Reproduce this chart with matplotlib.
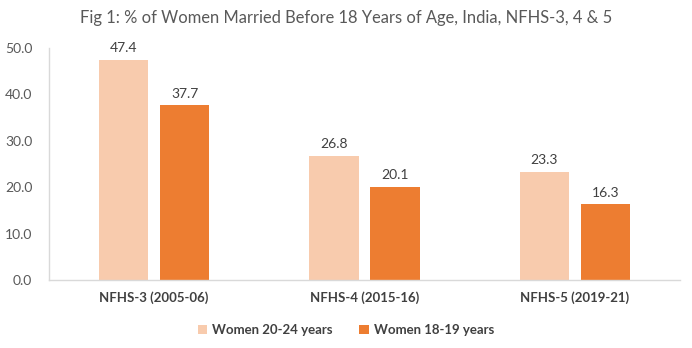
import matplotlib
matplotlib.use("Agg")
import matplotlib.pyplot as plt
import numpy as np

categories = ["NFHS-3 (2005-06)", "NFHS-4 (2015-16)", "NFHS-5 (2019-21)"]
women_20_24 = [47.4, 26.8, 23.3]
women_18_19 = [37.7, 20.1, 16.3]
series_names = ["Women 20-24 years", "Women 18-19 years"]
yticks = [0, 10, 20, 30, 40, 50]

plt.rcParams['font.family'] = ['Lato', 'DejaVu Sans']
grey = "#595959"

fig = plt.figure(figsize=(6.92, 3.48), dpi=100)
ax = fig.add_axes([49/692, 1 - 280/348, 631/692, 232/348])

x = np.arange(len(categories))
w = 0.235
off = 0.145
b1 = ax.bar(x - off, women_20_24, w, color="#F8CBAD", label=series_names[0])
b2 = ax.bar(x + off, women_18_19, w, color="#ED7D31", label=series_names[1])
for bars, vals in ((b1, women_20_24), (b2, women_18_19)):
    for r, v in zip(bars, vals):
        ax.text(r.get_x() + r.get_width()/2, v + 1.2, f"{v:.1f}", ha="center", va="bottom",
                fontsize=10, color="#404040")

ax.set_xlim(-0.5, 2.5)
ax.set_ylim(0, 50)
ax.set_yticks(yticks)
ax.set_yticklabels([f"{t:.1f}" for t in yticks], fontsize=10, color=grey)
ax.set_xticks(x)
ax.set_xticklabels(categories, fontsize=9.5, fontweight="bold", color="#404040")
ax.tick_params(axis="both", length=0, pad=8)
ax.tick_params(axis="y", pad=12)
for s in ("top", "right"):
    ax.spines[s].set_visible(False)
for s in ("left", "bottom"):
    ax.spines[s].set_color("#D9D9D9")
    ax.spines[s].set_linewidth(1)

fig.text(0.5, 1 - 18/348, "Fig 1: % of Women Married Before 18 Years of Age, India, NFHS-3, 4 & 5",
         ha="center", va="center", fontsize=11.9, color=grey)

leg = fig.legend(handles=[b1, b2], labels=series_names, loc="center", bbox_to_anchor=(0.5, 1 - 330/348),
                 ncol=2, frameon=False, fontsize=9.5, handlelength=0.7, handleheight=0.7,
                 columnspacing=2.0, handletextpad=0.4)
for t in leg.get_texts():
    t.set_fontweight("bold")
    t.set_color("#404040")

fig.savefig("out.png", dpi=100)
